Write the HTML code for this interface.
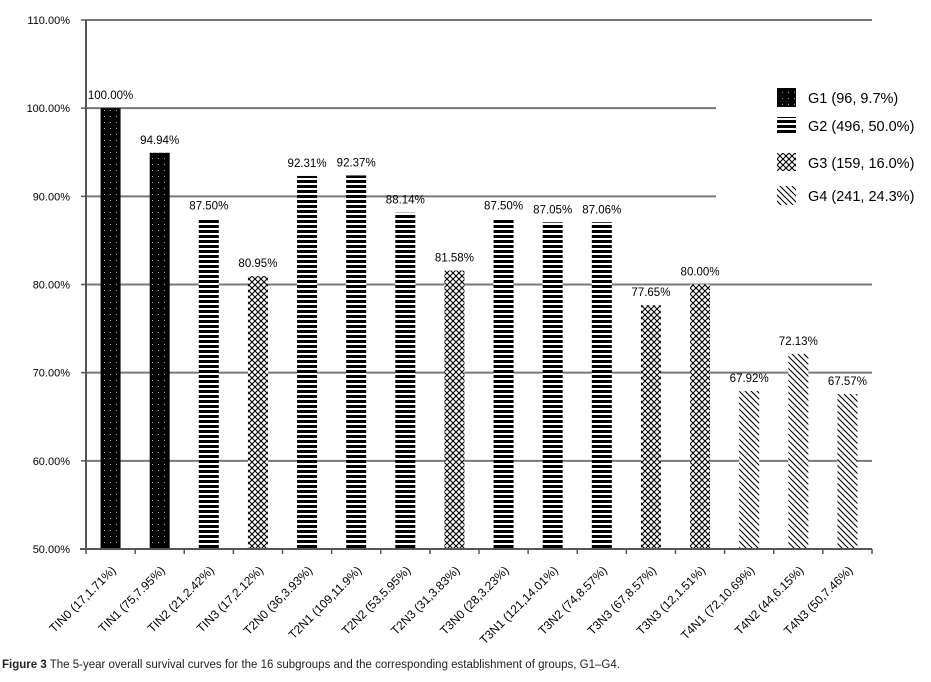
<!DOCTYPE html>
<html><head><meta charset="utf-8"><style>
body{margin:0;background:#fff;width:931px;height:677px;overflow:hidden;font-family:"Liberation Sans",Arial,sans-serif}
</style></head><body>
<svg width="931" height="677" xmlns="http://www.w3.org/2000/svg" font-family="Liberation Sans, Arial, sans-serif">
<defs>
<pattern id="pG1" width="6" height="6" patternUnits="userSpaceOnUse"><rect width="6" height="6" fill="#000"/><rect x="2" y="2" width="1" height="1" fill="#aaa"/></pattern>
<pattern id="pG2" width="5" height="5" patternUnits="userSpaceOnUse"><rect width="5" height="5" fill="#fff"/><rect width="5" height="3" fill="#000"/></pattern>
<pattern id="pG3" width="6" height="6" patternUnits="userSpaceOnUse"><rect width="6" height="6" fill="#fff"/><path d="M0,0L6,6M6,0L0,6" stroke="#000" stroke-width="1.1"/></pattern>
<pattern id="pG4" width="6" height="6" patternUnits="userSpaceOnUse"><rect width="6" height="6" fill="#fff"/><path d="M-1,-1L7,7M-1,5L1,7M5,-1L7,1" stroke="#000" stroke-width="1.1"/></pattern>
</defs>
<g id="grid"></g>
<rect x="716" y="80" width="215" height="130" fill="#fff"/>
<g id="bars"></g><g id="axes"></g>
<g font-size="14.5" fill="#000">
<rect x="777" y="88" width="19" height="19" fill="url(#pG1)"/>
<text x="808" y="103">G1 (96, 9.7%)</text>
<rect x="777" y="117" width="19" height="16" fill="url(#pG2)"/>
<text x="808" y="131">G2 (496, 50.0%)</text>
<rect x="777" y="153" width="19" height="18" fill="url(#pG3)"/>
<text x="808" y="168">G3 (159, 16.0%)</text>
<rect x="777" y="186" width="19" height="19" fill="url(#pG4)"/>
<text x="808" y="201">G4 (241, 24.3%)</text>
</g>
<text x="2" y="668" font-size="11.5" fill="#222"><tspan font-weight="bold">Figure 3</tspan> The 5-year overall survival curves for the 16 subgroups and the corresponding establishment of groups, G1–G4.</text>
</svg>
<script>
const categories=["TIN0 (17,1.71%)","TIN1 (75,7.95%)","TIN2 (21,2.42%)","TIN3 (17,2.12%)","T2N0 (36,3.93%)","T2N1 (109,11.9%)","T2N2 (53,5.95%)","T2N3 (31,3.83%)","T3N0 (28,3.23%)","T3N1 (121,14.01%)","T3N2 (74,8.57%)","T3N3 (67,8.57%)","T3N3 (12,1.51%)","T4N1 (72,10.69%)","T4N2 (44,6.15%)","T4N3 (50,7.46%)"];
const values=[100.00,94.94,87.50,80.95,92.31,92.37,88.14,81.58,87.50,87.05,87.06,77.65,80.00,67.92,72.13,67.57];
const groups=["G1","G1","G2","G3","G2","G2","G2","G3","G2","G2","G2","G3","G3","G4","G4","G4"];
const yTicks=[50,60,70,80,90,100,110];
const NS="http://www.w3.org/2000/svg";
const X0=86,X1=872,Y0=549,Y1=20,ymin=50,ymax=110;
const bw=(X1-X0)/categories.length;
const yS=v=>Y0-(v-ymin)/(ymax-ymin)*(Y0-Y1);
const xS=i=>X0+bw*(i+0.5);
function mk(t,a,p){const e=document.createElementNS(NS,t);for(const k in a)e.setAttribute(k,a[k]);p.appendChild(e);return e;}
const grid=document.getElementById('grid'),bars=document.getElementById('bars'),axes=document.getElementById('axes');
yTicks.forEach(v=>{
  if(v>ymin){const l=mk('line',{x1:X0,x2:X1,y1:yS(v),y2:yS(v),stroke:'#777','stroke-width':2},grid);
  
  }
  const t=mk('text',{x:70,y:yS(v)+4,'text-anchor':'end','font-size':11,fill:'#000'},axes);
  t.textContent=v.toFixed(2)+'%';
  
  
});
values.forEach((v,i)=>{
  const r=mk('rect',{x:xS(i)-10,y:yS(v),width:20,height:Y0-yS(v),fill:'url(#p'+groups[i]+')'},bars);
  
  
  const t=mk('text',{x:xS(i),y:yS(v)-9,'text-anchor':'middle','font-size':11.5,fill:'#000'},bars);
  t.textContent=v.toFixed(2)+'%';
  
  
  const lx=xS(i)+6,ly=Y0+22;
  const c=mk('text',{x:lx,y:ly,'text-anchor':'end','font-size':12,fill:'#000',transform:'rotate(-45 '+lx+' '+ly+')'},axes);
  c.textContent=categories[i];
  
  
});
for(let i=0;i<=categories.length;i++){
  const tk=mk('line',{x1:X0+bw*i,x2:X0+bw*i,y1:Y0,y2:Y0+5,stroke:'#555','stroke-width':1.5},axes);
  
  
}
const ya=mk('line',{x1:X0,x2:X0,y1:Y1,y2:Y0,stroke:'#555','stroke-width':2},axes);


const xa=mk('line',{x1:X0-6,x2:X1,y1:Y0,y2:Y0,stroke:'#555','stroke-width':2},axes);


for(const v of yTicks){const tk=mk('line',{x1:X0-5,x2:X0,y1:yS(v),y2:yS(v),stroke:'#555','stroke-width':1.5},axes);

}
</script>
</body></html>
